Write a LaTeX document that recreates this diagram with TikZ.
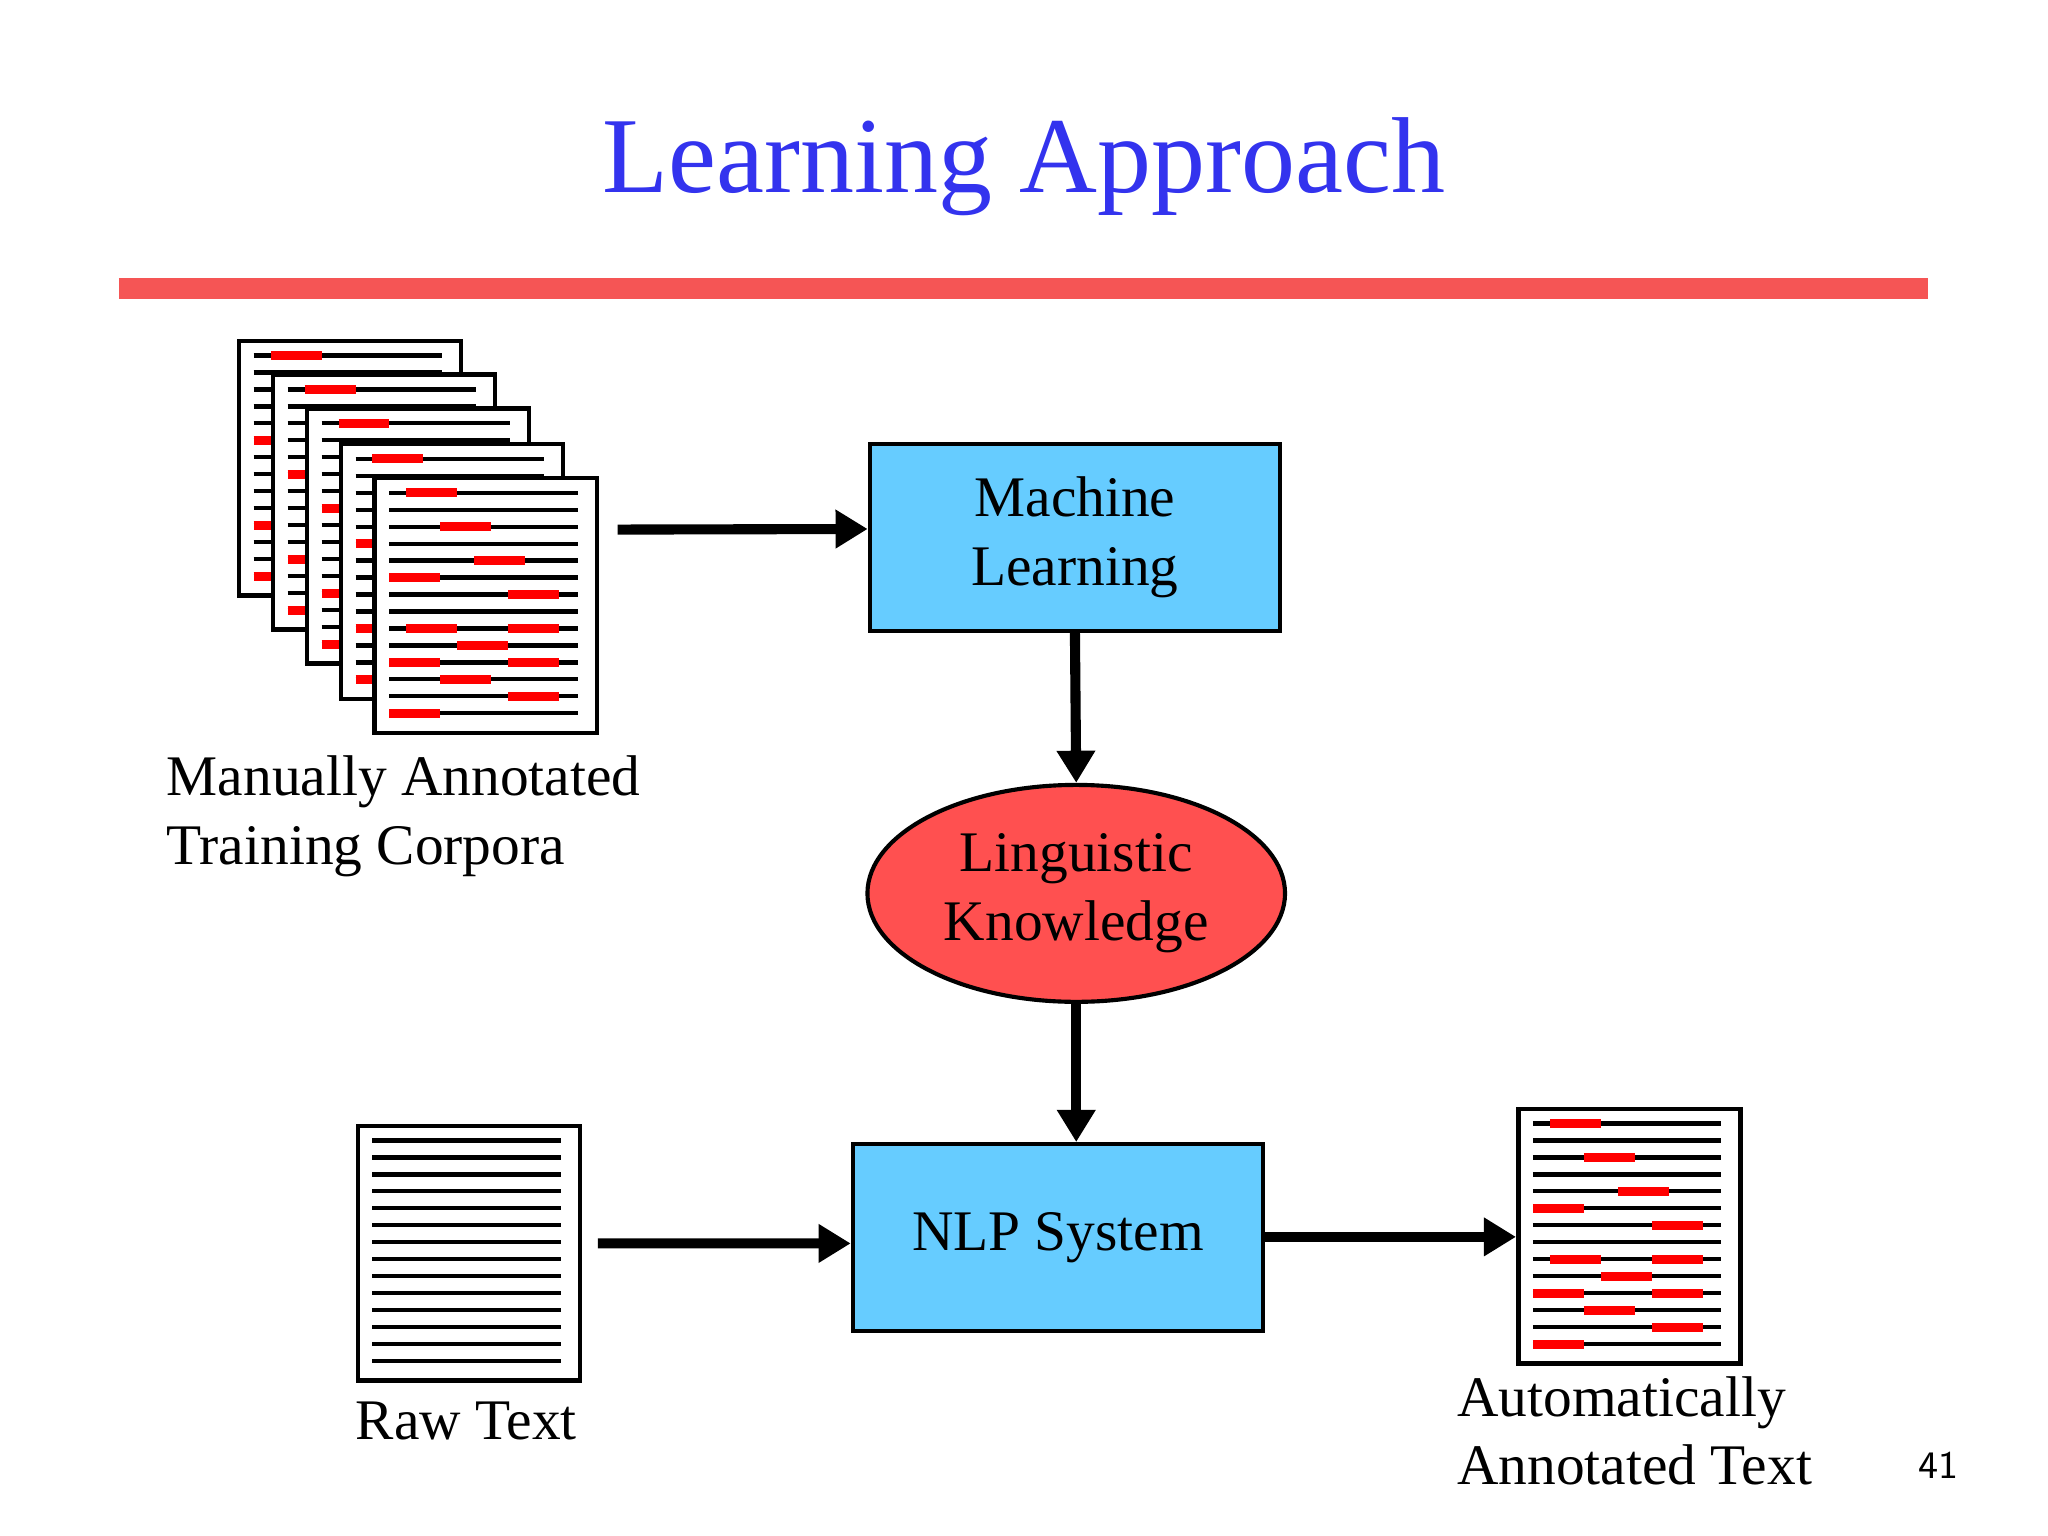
\documentclass[tikz,border=0pt]{standalone}
\usepackage{fontspec}
\setmainfont{Liberation Serif}
\usetikzlibrary{shapes.geometric,arrows.meta}
\definecolor{boxblue}{RGB}{102,204,255}
\definecolor{ellred}{RGB}{255,80,80}
\definecolor{titleblue}{RGB}{51,51,238}
\definecolor{rulered}{RGB}{245,85,85}
\tikzset{
 doc/.style={draw,fill=white,line width=1pt,minimum width=1.7cm,minimum height=1.95cm,inner sep=0pt},
 txt/.style={line width=0.9pt},
 ann/.style={red,line width=2pt},
 box/.style={draw,fill=boxblue,line width=0.9pt,minimum width=3.14cm,minimum height=1.43cm,align=center,font=\fontsize{12.5}{15}\selectfont},
 arr/.style={line width=2.2pt,-{Triangle[length=7pt,width=8pt]}},
 lbl/.style={align=left,font=\fontsize{12.5}{15}\selectfont,inner sep=0pt}
}
\newcommand\plainlines[1]{\foreach \i in {1,...,14} \draw[txt] ([shift={(13,13*\i)}]#1.north west) -- ++(144,0);}
\newcommand\annolines[1]{\plainlines{#1}%
 \foreach \i/\s in {1/1,3/3,5/5,6/0,7/7,9/1,9/7,10/4,11/0,11/7,12/3,13/7,14/0}
  \draw[ann] ([shift={(13+13*\s,13*\i)}]#1.north west) -- ++(39,0);}
\begin{document}
\begin{tikzpicture}[x=0.01cm,y=-0.01cm]
\useasboundingbox (0,0) rectangle (1568,1176);
\node[font=\fontsize{23.5}{28}\selectfont,text=titleblue] (title) at (784,128) {Learning Approach};
\draw[rulered,line width=4.5pt] (91,221) -- (1476,221);
% stack
\node[doc] (c1) at (268,358.5) {}; \annolines{c1}
\node[doc] (c2) at (294,384.5) {}; \annolines{c2}
\node[doc] (c3) at (320,410.5) {}; \annolines{c3}
\node[doc] (c4) at (346,437.5) {}; \annolines{c4}
\node[doc] (c5) at (372,463.5) {}; \annolines{c5}
\node[lbl,anchor=north west] (lc) at (127,578) {Manually Annotated\\Training Corpora};
% raw
\node[doc] (raw) at (359,959.5) {}; \plainlines{raw}
\node[lbl] (lr) at (357,1088) {Raw Text};
% output
\node[doc] (out) at (1247.5,946.5) {}; \annolines{out}
\node[lbl,anchor=north west] (lo) at (1115,1053) {Automatically\\Annotated Text};
% main
\node[box] (ml) at (823,411.5) {Machine\\Learning};
\node[ellipse,draw,fill=ellred,line width=0.9pt,minimum width=3.18cm,minimum height=1.66cm,align=center,font=\fontsize{12.5}{15}\selectfont] (lk) at (824,684) {Linguistic\\Knowledge};
\node[box] (nlp) at (810,947.5) {NLP System};
\draw[arr] ([xshift=14pt*0+0.14cm,yshift=0.58cm]c5.east) -- (ml.west |- 0,405);
\draw[arr] (ml.south) -- (lk.north);
\draw[arr] (lk.south) -- (nlp.north -| lk.south);
\draw[arr] ([xshift=0.12cm,yshift=0.075cm]raw.east) -- (nlp.west |- 0,952);
\draw[arr] (nlp.east |- 0,947) -- (out.west |- 0,947);
\node[font=\sffamily\fontsize{8.5}{10}\selectfont] (pg) at (1484,1122) {41};
\end{tikzpicture}
\end{document}
